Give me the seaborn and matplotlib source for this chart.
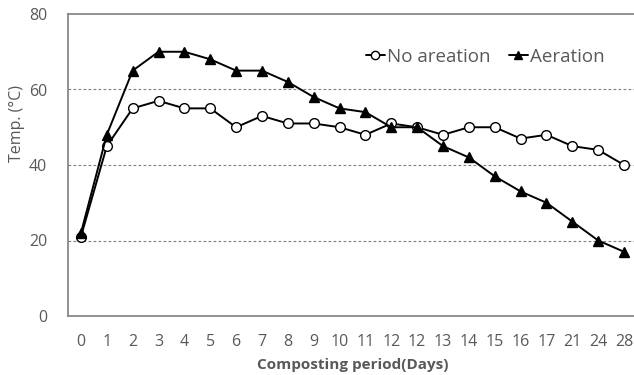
import matplotlib
matplotlib.use("Agg")
import matplotlib.pyplot as plt
import pandas as pd
import seaborn as sns

days = ["0", "1", "2", "3", "4", "5", "6", "7", "8", "9", "10", "11",
        "12", "12", "13", "14", "15", "16", "17", "21", "24", "28"]
no_aeration = [21, 45, 55, 57, 55, 55, 50, 53, 51, 51, 50, 48,
               51, 50, 48, 50, 50, 47, 48, 45, 44, 40]
aeration = [22, 48, 65, 70, 70, 68, 65, 65, 62, 58, 55, 54,
            50, 50, 45, 42, 37, 33, 30, 25, 20, 17]
y_ticks = [0, 20, 40, 60, 80]

GRAY = "#595959"

sns.set_theme(style="white")
plt.rcParams["font.family"] = ["Open Sans", "DejaVu Sans"]

pos = list(range(len(days)))
df = pd.concat([
    pd.DataFrame({"pos": pos, "temp": no_aeration, "group": "No areation"}),
    pd.DataFrame({"pos": pos, "temp": aeration, "group": "Aeration"}),
])

fig = plt.figure(figsize=(6.34, 3.75), dpi=100)
ax = fig.add_axes([68 / 634, 59 / 375, 569 / 634, 302 / 375])

for grid_y in y_ticks[1:-1]:
    ax.axhline(grid_y, color="#7f7f7f", lw=0.8, ls=(0, (2.5, 2)), zorder=0)

styles = {
    "No areation": dict(marker="o", mfc="white", mec="black", ms=7, mew=1.0),
    "Aeration": dict(marker="^", mfc="black", mec="black", ms=7.5, mew=1.0),
}
for name, sub in df.groupby("group", sort=False):
    sns.lineplot(data=sub, x="pos", y="temp", ax=ax, color="black", lw=1.4,
                 label=name, **styles[name])

ax.set_xlim(-0.5, len(days) - 0.5)
ax.set_ylim(0, 80)
ax.set_xticks(pos)
ax.set_xticklabels(days)
ax.set_yticks(y_ticks)
ax.tick_params(axis="both", length=0, labelsize=11.5, labelcolor=GRAY)
ax.tick_params(axis="y", pad=15)
ax.tick_params(axis="x", pad=13)

for side in ["top", "left", "bottom", "right"]:
    ax.spines[side].set_color("#7f7f7f")
    ax.spines[side].set_linewidth(1.2)

ax.set_xlabel("Composting period(Days)", fontsize=11, fontweight="bold",
              color=GRAY, labelpad=6)
ax.set_ylabel("Temp. (°C)", fontsize=11.5, color=GRAY)
ax.yaxis.set_label_coords(-0.075, 0.636)

leg = ax.legend(loc="center", bbox_to_anchor=(0.733, 0.858), ncol=2,
                frameon=False, fontsize=13.5, handlelength=1.0,
                handletextpad=0.1, columnspacing=1.0, markerscale=0.85)
for text in leg.get_texts():
    text.set_color(GRAY)

fig.savefig("out.png", dpi=100)
